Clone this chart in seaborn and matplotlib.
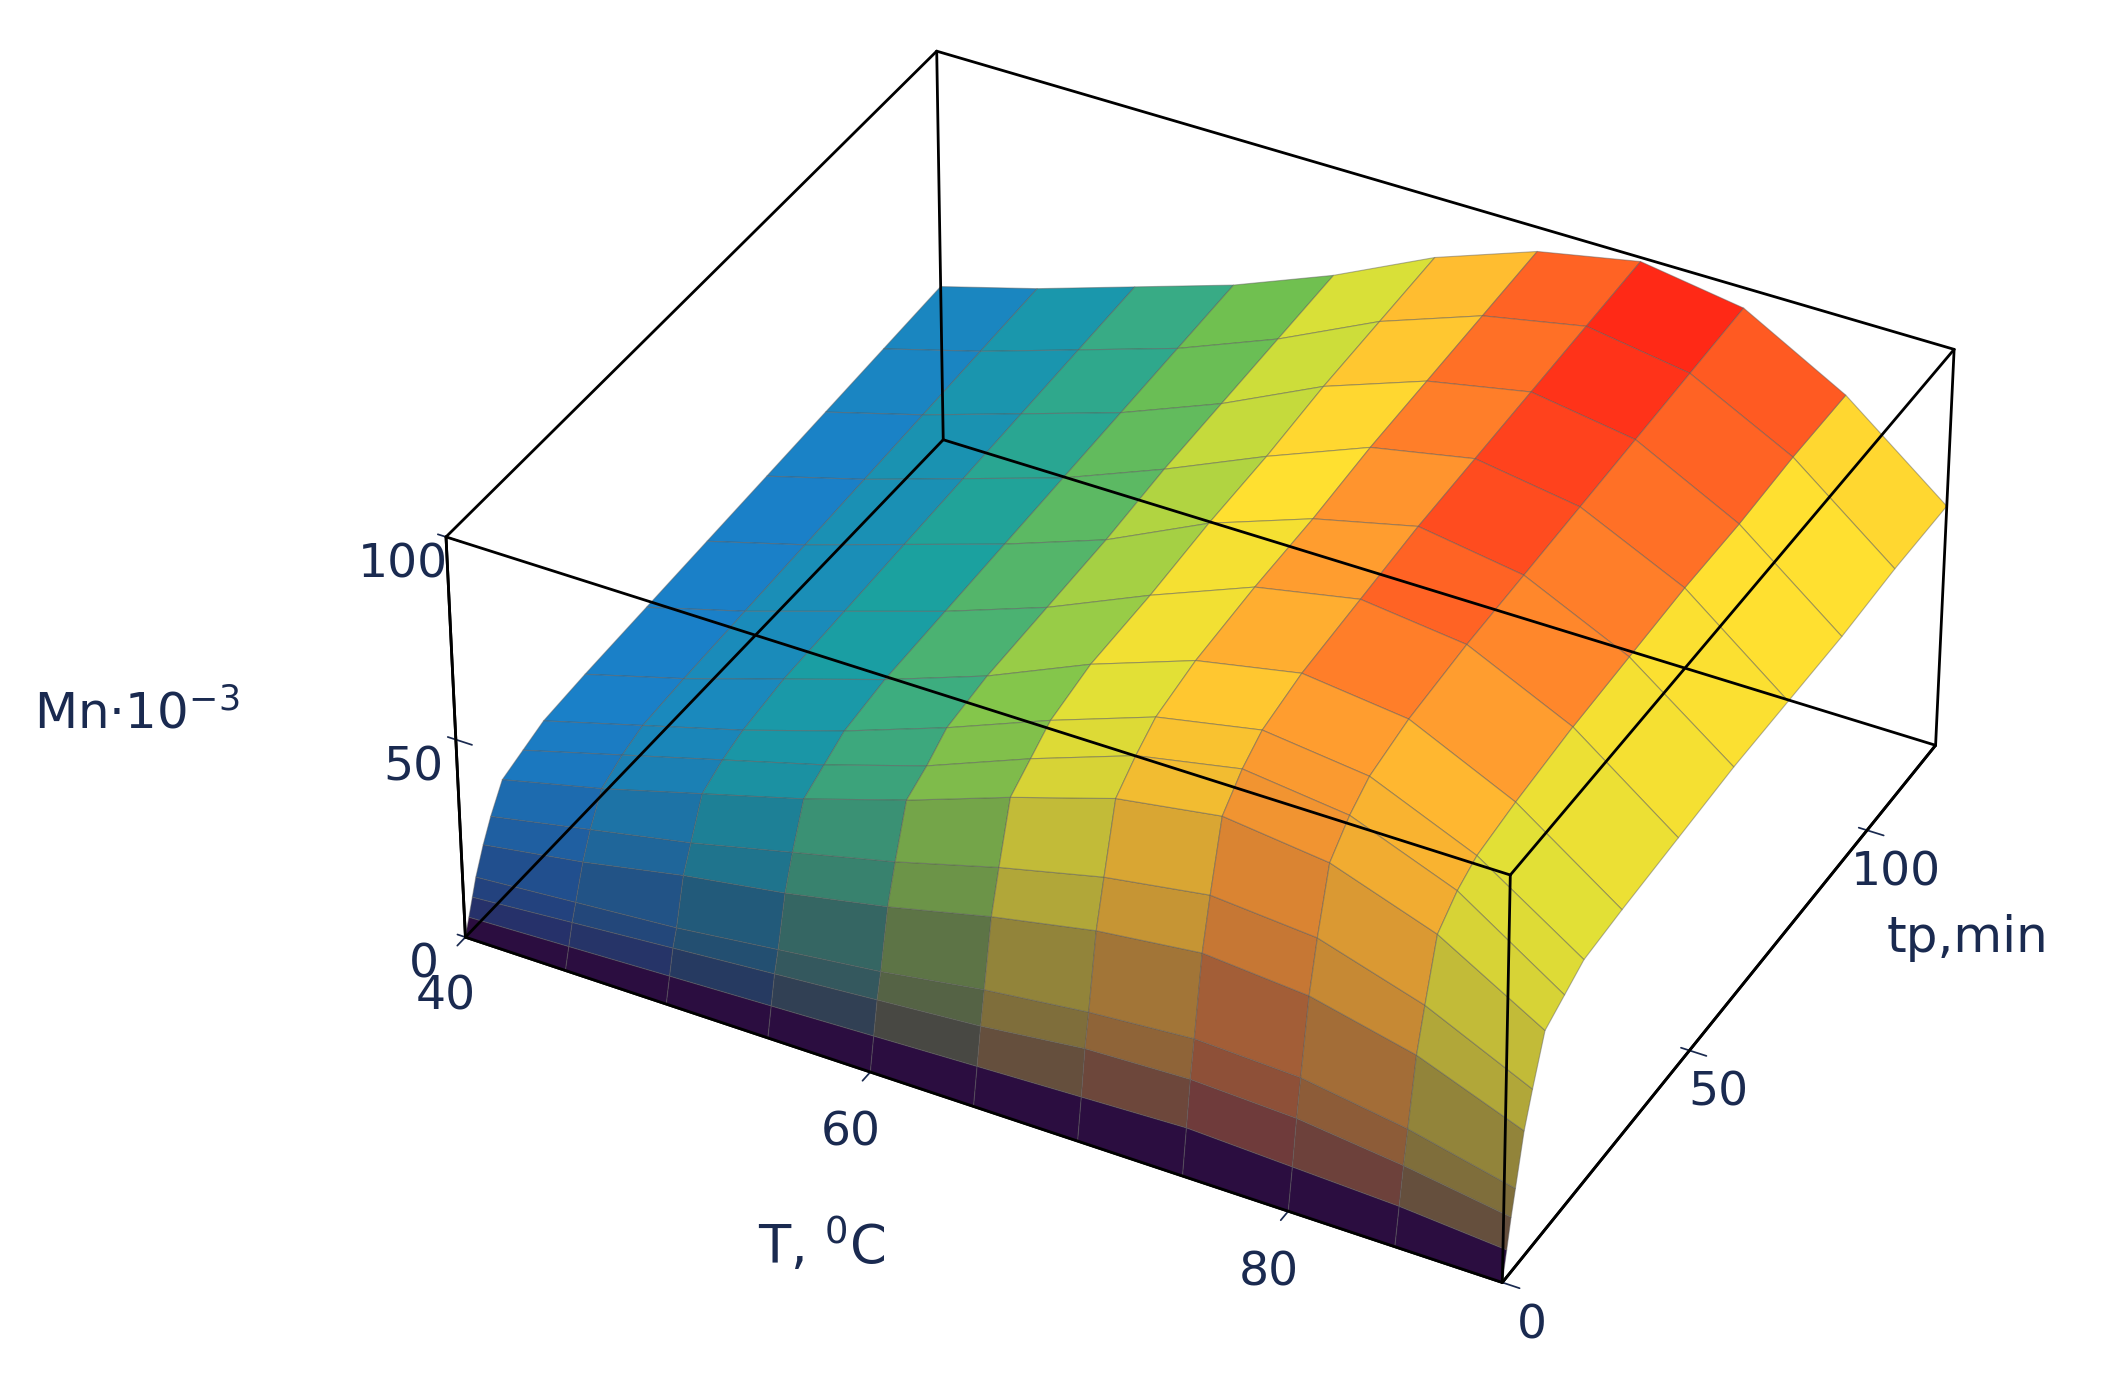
import numpy as np
import matplotlib
matplotlib.use("Agg")
import matplotlib.pyplot as plt
import seaborn as sns
from matplotlib.colors import LinearSegmentedColormap

sns.set_theme(style="white")
plt.rcParams['font.family'] = ['DejaVu Sans']

T_vals = [40, 45, 50, 55, 60, 65, 70, 75, 80, 85, 90]
tp_vals = [0, 1, 2, 3, 5, 7, 10, 15, 20, 30, 45, 60, 75, 90, 105, 120]
Mn_rows = [
    [0, 0, 0, 0, 0, 0, 0, 0, 0, 0, 0],
    [4, 5, 6, 7, 8, 9, 10, 11, 10, 9, 7],
    [8, 10, 12, 14, 16, 18, 21, 22, 21, 18, 14],
    [12, 14, 16, 19, 22, 26, 29, 31, 30, 26, 20],
    [18, 22, 27, 31, 36, 42, 47, 50, 48, 42, 32],
    [23, 28, 33, 39, 45, 52, 58, 62, 60, 52, 40],
    [29, 35, 42, 49, 57, 66, 74, 78, 75, 66, 51],
    [31, 38, 45, 52, 60, 70, 79, 84, 81, 71, 54],
    [33, 40, 47, 55, 64, 74, 83, 88, 85, 74, 57],
    [34, 41, 49, 57, 66, 77, 86, 91, 88, 76, 58],
    [35, 42, 50, 58, 67, 78, 88, 93, 90, 78, 59],
    [36, 43, 51, 59, 68, 80, 89, 95, 91, 79, 60],
    [37, 44, 52, 60, 70, 81, 91, 96, 92, 80, 60],
    [38, 45, 53, 61, 71, 83, 92, 97, 93, 80, 60],
    [39, 46, 54, 62, 72, 84, 93, 98, 94, 81, 61],
    [40, 47, 55, 63, 73, 85, 94, 99, 95, 81, 61],
]

X, Y = np.meshgrid(np.array(T_vals, float), np.array(tp_vals, float))
Z = np.array(Mn_rows, float)

cmap = LinearSegmentedColormap.from_list(
    "mc", [(0.0, "#1a7fc8"), (0.36, "#1a80c8"), (0.5, "#1aa0a0"), (0.62, "#70c050"),
           (0.72, "#d8e038"), (0.8, "#ffe030"), (0.88, "#ffa030"), (0.95, "#ff5020"),
           (1.0, "#ff1010")])

top = Z[tp_vals.index(20)]
Zh = np.maximum(Z, top[None, :])
f = np.clip(Z / top[None, :], 0, 1) ** 0.55
hue = cmap(Zh / 100.0)
dark = np.array([0.17, 0.05, 0.25, 1.0])
colors = dark + (hue - dark) * f[..., None]
colors[..., 3] = 1.0

fig = plt.figure(figsize=(21.08, 14), dpi=100)
ax = fig.add_axes([-0.14, -0.23, 1.4, 1.5], projection='3d')
ax.plot_surface(X, Y, Z, facecolors=colors, edgecolor=(0.35, 0.35, 0.35, 0.45),
                linewidth=0.8, shade=False, antialiased=True, rstride=1, cstride=1)

xl, yl, zl = (40, 90), (0, 120), (0, 100)
ax.set_xlim(*xl); ax.set_ylim(*yl); ax.set_zlim(*zl)
for a in [ax.xaxis, ax.yaxis, ax.zaxis]:
    a.set_pane_color((1, 1, 1, 0))
    a.pane.set_edgecolor((1, 1, 1, 0))
    a.line.set_color("black")
    a.line.set_linewidth(2)
ax.zaxis._axinfo['juggled'] = (1, 2, 0)
ax.grid(False)
for x in xl:
    for y in yl:
        ax.plot([x, x], [y, y], zl, color="black", lw=2)
for x in xl:
    for z in zl:
        ax.plot([x, x], yl, [z, z], color="black", lw=2)
for y in yl:
    for z in zl:
        ax.plot(xl, [y, y], [z, z], color="black", lw=2)

ax.set_xticks([40, 60, 80])
ax.set_yticks([0, 50, 100])
ax.set_zticks([0, 50, 100])
tc = "#1a2a50"
ax.tick_params(labelsize=34, colors=tc, pad=14)
ax.tick_params(axis='x', pad=24)
ax.view_init(elev=36, azim=-62)
ax.set_box_aspect((1.3, 1.1, 0.55), zoom=0.74)

fig.text(0.016, 0.49, "Mn·10$^{-3}$", fontsize=36, color=tc, ha="left", va="center")
fig.text(0.39, 0.11, "T, $^0$C", fontsize=38, color=tc, ha="center", va="center")
fig.text(0.895, 0.33, "tp,min", fontsize=36, color=tc, ha="left", va="center")

fig.savefig("out.png", dpi=100, facecolor="white")
